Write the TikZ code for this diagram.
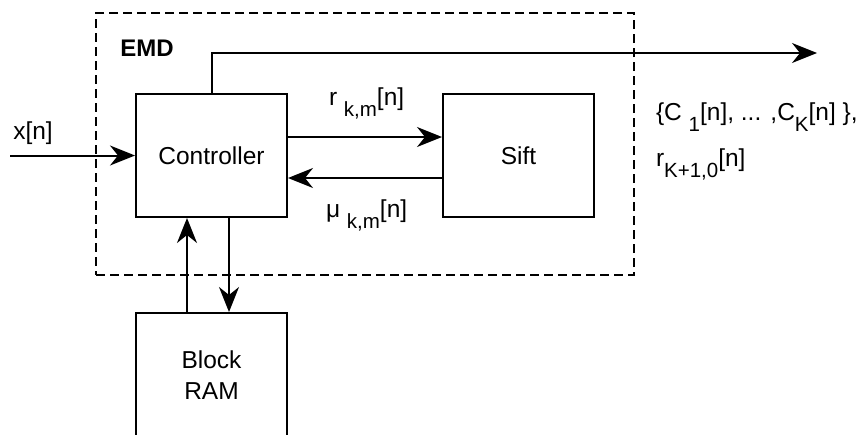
\documentclass[tikz,border=0pt]{standalone}
\usepackage{fontspec}
\setmainfont{Liberation Sans}
\usetikzlibrary{arrows.meta}
\newcommand{\lowsub}[1]{\raisebox{-11pt}{\fontsize{20.5}{24}\selectfont #1}}
\begin{document}
\begin{tikzpicture}[x=1pt,y=-1pt,
  line width=2pt,
  box/.style={draw, rectangle, minimum width=151pt, minimum height=123pt, inner sep=0pt, align=center, font=\fontsize{24.5}{31}\selectfont},
  lbl/.style={inner sep=0pt, font=\fontsize{24.5}{31}\selectfont},
  arr/.style={-{Stealth[length=25pt,width=20pt,inset=8pt]}},
  emdbox/.style={draw, dash pattern=on 9pt off 5pt, minimum width=538pt, minimum height=262pt, inner sep=0pt}
]
\useasboundingbox (0,0) rectangle (867,434);
\clip (0,0) rectangle (867,434);

% EMD container
\node[emdbox] (emd) at (365,144) {};
\node[lbl, font=\fontsize{24}{30}\selectfont\bfseries] (emdlbl) at (147,48) {EMD};

% blocks
\node[box] (ctrl) at (211.5,155.5) {Controller};
\node[box] (sift) at (518.5,155.5) {Sift};
\node[box, minimum height=124pt] (ram) at (211.5,375) {Block\\RAM};

% input
\coordinate (xin) at (10,155.5);
\draw[arr] (xin) -- (ctrl.west);
\node[lbl] (xlbl) at (33,133) {x[n]};

% output
\coordinate (out) at (817,53);
\draw[arr] (ctrl.north) |- (out);
\node[lbl, anchor=base west] (out1) at (655,120) {\{C \lowsub{1}[n], ... ,C\lowsub{K}[n] \},};
\node[lbl, anchor=base west] (out2) at (655,166) {r\lowsub{K+1,0}[n]};

% controller <-> sift
\draw[arr] ([yshift=18.5pt]ctrl.east) -- ([yshift=18.5pt]sift.west);
\draw[arr] ([yshift=-22.5pt]sift.west) -- ([yshift=-22.5pt]ctrl.east);
\node[lbl, anchor=base west] (rlbl) at (328,105) {r \lowsub{k,m}[n]};
\node[lbl, anchor=base west] (mulbl) at (325,217) {μ \lowsub{k,m}[n]};

% controller <-> RAM
\draw[arr] ([xshift=-24.5pt]ram.north) -- ([xshift=-24.5pt]ctrl.south);
\draw[arr] ([xshift=17.5pt]ctrl.south) -- ([xshift=17.5pt]ram.north);
\end{tikzpicture}
\end{document}
